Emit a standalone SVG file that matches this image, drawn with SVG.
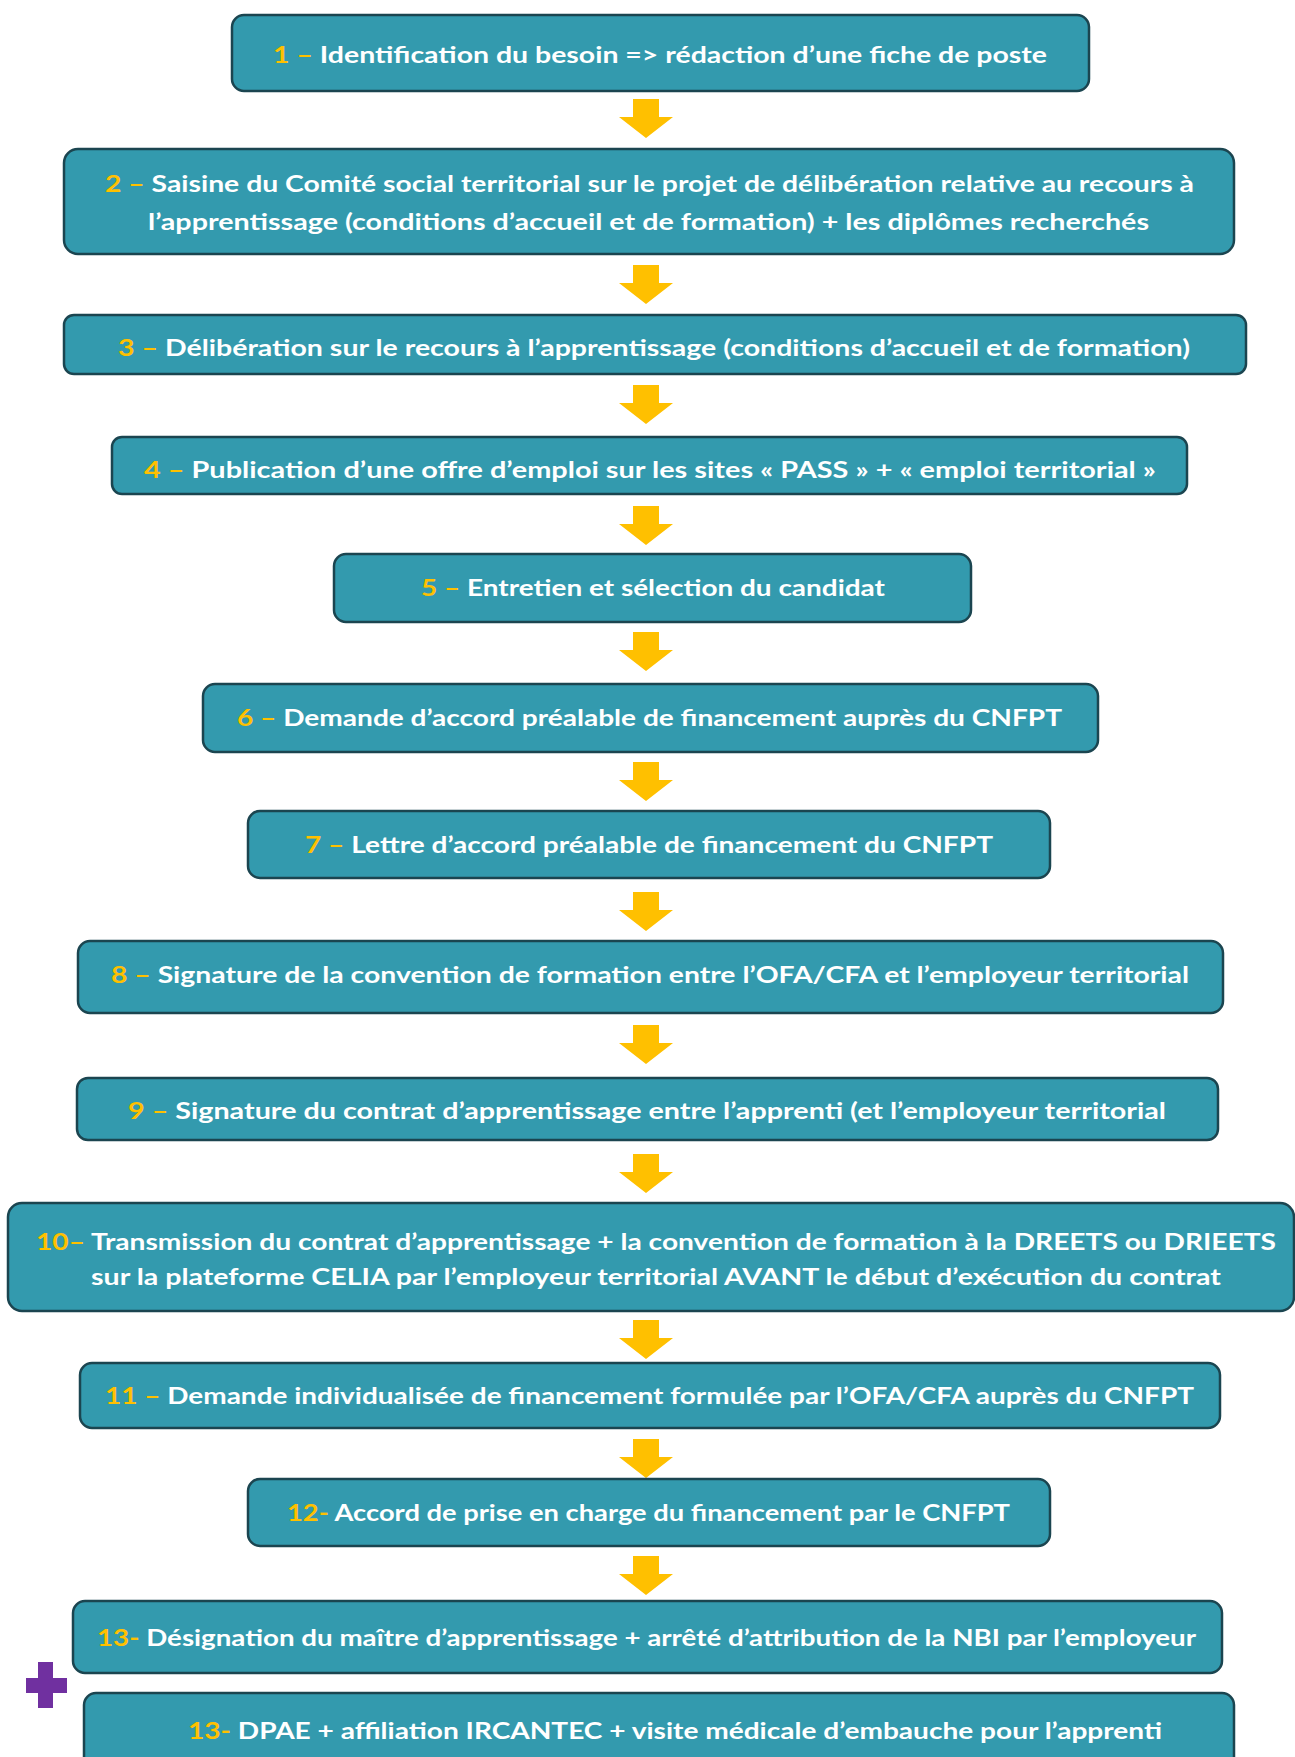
<svg xmlns="http://www.w3.org/2000/svg" width="1295" height="1757" viewBox="0 0 1295 1757">
<defs>
<style>
.box{fill:#339AAE;stroke:#1B4550;stroke-width:2.5}
.t{font-family:Lato,"Open Sans","Liberation Sans",sans-serif;font-weight:bold;font-size:23.5px;fill:#FFFFFF}
.n{fill:#FFC000}
.arr{fill:#FFC000}
</style>
<path id="arrow" d="M-13,0 H13 V18 H27 L0,39 L-27,18 H-13 Z"/>
</defs>
<rect width="1295" height="1757" fill="#FFFFFF"/>
<g id="connectors">
<use href="#arrow" class="arr" x="646" y="99"/>
<use href="#arrow" class="arr" x="646" y="265"/>
<use href="#arrow" class="arr" x="646" y="385"/>
<use href="#arrow" class="arr" x="646" y="506"/>
<use href="#arrow" class="arr" x="646" y="632"/>
<use href="#arrow" class="arr" x="646" y="762"/>
<use href="#arrow" class="arr" x="646" y="892"/>
<use href="#arrow" class="arr" x="646" y="1025"/>
<use href="#arrow" class="arr" x="646" y="1154"/>
<use href="#arrow" class="arr" x="646" y="1320"/>
<use href="#arrow" class="arr" x="646" y="1439"/>
<use href="#arrow" class="arr" x="646" y="1556"/>
</g>
<g id="n1">
<rect class="box" x="232" y="15" width="857" height="76" rx="12"/>
<text class="t" x="273" y="63" textLength="774" lengthAdjust="spacingAndGlyphs"><tspan class="n">1 – </tspan>Identification du besoin =&gt; rédaction d’une fiche de poste</text>
</g>
<g id="n2">
<rect class="box" x="64" y="149" width="1170" height="105" rx="14"/>
<text class="t" x="105" y="192" textLength="1089" lengthAdjust="spacingAndGlyphs"><tspan class="n">2 – </tspan>Saisine du Comité social territorial sur le projet de délibération relative au recours à</text>
<text class="t" x="148" y="230" textLength="1001" lengthAdjust="spacingAndGlyphs">l’apprentissage (conditions d’accueil et de formation) + les diplômes recherchés</text>
</g>
<g id="n3">
<rect class="box" x="64" y="315" width="1182" height="59" rx="10"/>
<text class="t" x="118" y="356" textLength="1072" lengthAdjust="spacingAndGlyphs"><tspan class="n">3 – </tspan>Délibération sur le recours à l’apprentissage (conditions d’accueil et de formation)</text>
</g>
<g id="n4">
<rect class="box" x="112" y="437" width="1075" height="57" rx="10"/>
<text class="t" x="144" y="478" textLength="1012" lengthAdjust="spacingAndGlyphs"><tspan class="n">4 – </tspan>Publication d’une offre d’emploi sur les sites « PASS » + « emploi territorial »</text>
</g>
<g id="n5">
<rect class="box" x="334" y="554" width="637" height="68" rx="12"/>
<text class="t" x="421" y="596" textLength="464" lengthAdjust="spacingAndGlyphs"><tspan class="n">5 – </tspan>Entretien et sélection du candidat</text>
</g>
<g id="n6">
<rect class="box" x="203" y="684" width="895" height="68" rx="12"/>
<text class="t" x="237" y="726" textLength="825" lengthAdjust="spacingAndGlyphs"><tspan class="n">6 – </tspan>Demande d’accord préalable de financement auprès du CNFPT</text>
</g>
<g id="n7">
<rect class="box" x="248" y="811" width="802" height="67" rx="12"/>
<text class="t" x="305" y="853" textLength="688" lengthAdjust="spacingAndGlyphs"><tspan class="n">7 – </tspan>Lettre d’accord préalable de financement du CNFPT</text>
</g>
<g id="n8">
<rect class="box" x="78" y="941" width="1145" height="72" rx="12"/>
<text class="t" x="111" y="983" textLength="1078" lengthAdjust="spacingAndGlyphs"><tspan class="n">8 – </tspan>Signature de la convention de formation entre l’OFA/CFA et l’employeur territorial</text>
</g>
<g id="n9">
<rect class="box" x="77" y="1078" width="1141" height="62" rx="11"/>
<text class="t" x="128" y="1119" textLength="1038" lengthAdjust="spacingAndGlyphs"><tspan class="n">9 – </tspan>Signature du contrat d’apprentissage entre l’apprenti (et l’employeur territorial</text>
</g>
<g id="n10">
<rect class="box" x="8" y="1203" width="1286" height="108" rx="14"/>
<text class="t" x="36" y="1250" textLength="1240" lengthAdjust="spacingAndGlyphs"><tspan class="n">10– </tspan>Transmission du contrat d’apprentissage + la convention de formation à la DREETS ou DRIEETS</text>
<text class="t" x="91" y="1285" textLength="1130" lengthAdjust="spacingAndGlyphs">sur la plateforme CELIA par l’employeur territorial AVANT le début d’exécution du contrat</text>
</g>
<g id="n11">
<rect class="box" x="80" y="1363" width="1140" height="65" rx="12"/>
<text class="t" x="105" y="1404" textLength="1089" lengthAdjust="spacingAndGlyphs"><tspan class="n">11 – </tspan>Demande individualisée de financement formulée par l’OFA/CFA auprès du CNFPT</text>
</g>
<g id="n12">
<rect class="box" x="248" y="1479" width="802" height="67" rx="12"/>
<text class="t" x="287" y="1521" textLength="723" lengthAdjust="spacingAndGlyphs"><tspan class="n">12- </tspan>Accord de prise en charge du financement par le CNFPT</text>
</g>
<g id="n13a">
<rect class="box" x="73" y="1601" width="1149" height="72" rx="12"/>
<text class="t" x="97" y="1646" textLength="1099" lengthAdjust="spacingAndGlyphs"><tspan class="n">13- </tspan>Désignation du maître d’apprentissage + arrêté d’attribution de la NBI par l’employeur</text>
</g>
<g id="plus">
<path d="M38,1662 H53 V1678 H67 V1693 H53 V1708 H38 V1693 H26 V1678 H38 Z" fill="#7030A0"/>
</g>
<g id="n13b">
<rect class="box" x="84" y="1693" width="1150" height="90" rx="12"/>
<text class="t" x="188" y="1739" textLength="974" lengthAdjust="spacingAndGlyphs"><tspan class="n">13- </tspan>DPAE + affiliation IRCANTEC + visite médicale d’embauche pour l’apprenti</text>
</g>
</svg>
